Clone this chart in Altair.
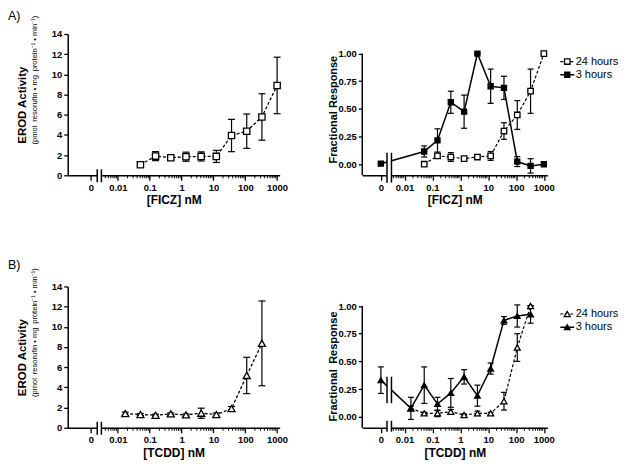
import altair as alt
import numpy as np
import pandas as pd

FONT = "Liberation Sans"

# ---------------- data ----------------
FICZ_CONC = [0.0508, 0.152, 0.457, 1.37, 4.12, 12.3, 37.0, 111.0, 333.0, 1000.0]
TCDD_CONC = [0.0169, 0.0508, 0.152, 0.457, 1.37, 4.12, 12.3, 37.0, 111.0, 333.0]
FICZ_3H_CONC = [0.0, 0.0508, 0.152, 0.457, 1.37, 4.12, 12.3, 37.0, 111.0, 333.0, 1000.0]
TCDD_3H_CONC = [0.0, 0.0169, 0.0508, 0.152, 0.457, 1.37, 4.12, 12.3, 37.0, 111.0, 333.0]

FICZ_EROD_MEAN = [1.05, 1.90, 1.74, 1.84, 1.87, 1.87, 3.94, 4.37, 5.78, 8.90]
FICZ_EROD_SEM = [0.10, 0.45, 0.15, 0.45, 0.45, 0.60, 1.60, 1.70, 2.30, 2.80]

TCDD_EROD_MEAN = [1.40, 1.31, 1.24, 1.37, 1.27, 1.44, 1.31, 1.90, 5.18, 8.36]
TCDD_EROD_SEM = [0.15, 0.10, 0.10, 0.10, 0.10, 0.50, 0.15, 0.20, 1.80, 4.20]

FICZ_3H_MEAN = [0.005, 0.115, 0.215, 0.56, 0.475, 1.00, 0.705, 0.69, 0.024, -0.015, 0.0]
FICZ_3H_SEM = [0.01, 0.05, 0.105, 0.10, 0.15, 0.0, 0.155, 0.105, 0.045, 0.065, 0.02]
FICZ_24H_MEAN = [0.0, 0.075, 0.065, 0.05, 0.065, 0.075, 0.30, 0.445, 0.66, 1.00]
FICZ_24H_SEM = [0.01, 0.02, 0.04, 0.01, 0.01, 0.04, 0.075, 0.13, 0.20, 0.0]

TCDD_3H_MEAN = [0.33, 0.075, 0.285, 0.115, 0.215, 0.36, 0.19, 0.435, 0.87, 0.91, 0.925]
TCDD_3H_SEM = [0.12, 0.10, 0.165, 0.06, 0.13, 0.065, 0.095, 0.05, 0.035, 0.10, 0.08]
TCDD_24H_MEAN = [0.075, 0.03, 0.03, 0.045, 0.015, 0.03, 0.03, 0.14, 0.625, 1.00]
TCDD_24H_SEM = [0.02, 0.01, 0.03, 0.02, 0.01, 0.02, 0.01, 0.08, 0.125, 0.0]

SERIES = ["24 hours", "3 hours"]
X_TICK_CONC = [0, 0.01, 0.1, 1, 10, 100, 1000]
X_TICK_LABELS = ["0", "0.01", "0.1", "1", "10", "100", "1000"]
Y_TICKS_EROD = [0, 2, 4, 6, 8, 10, 12, 14]
Y_TICKS_FR = [0.0, 0.25, 0.5, 0.75, 1.0]
EROD_SUB = "(pmol\u2002resorufin \u2022 mg\u2002protein\u207b\u00b9 \u2022 min\u207b\u00b9)"

# ---------------- helpers ----------------
ZERO_POS = -2.85  # where the "0" dose sits on the broken log axis


def xpos(c):
    return ZERO_POS if c == 0 else float(np.log10(c))


def frame(conc, mean, sem):
    return pd.DataFrame({
        "xpos": [xpos(c) for c in conc],
        "yv": mean,
        "lo": [m - s for m, s in zip(mean, sem)],
        "hi": [m + s for m, s in zip(mean, sem)],
    })


XVALS = [xpos(c) for c in X_TICK_CONC]
LABEL_EXPR = "".join(
    f"abs(datum.value - ({v:.4f})) < 0.01 ? '{t}' : " for v, t in zip(XVALS, X_TICK_LABELS)
) + "''"

MINOR = [float(np.log10(k * 10.0 ** n)) for n in range(-3, 3) for k in range(2, 10)]

H = 142
LABEL_FS = 9.5


def make_panel(p):
    W = p["W"]
    xs = alt.Scale(domain=p["xdom"], nice=False, zero=False)
    ys = alt.Scale(domain=p["ydom"], nice=False, zero=False)
    xaxis = alt.Axis(values=XVALS, labelExpr=LABEL_EXPR, title=p["xtitle"], titlePadding=3,
                     tickSize=5, labelPadding=2, domainWidth=1.5, tickWidth=1.3,
                     labelFontSize=LABEL_FS, titleFontSize=12, labelFlush=False,
                     labelOverlap=False)
    yaxis = alt.Axis(values=p["yticks"], format=p["yfmt"], title=p["ytitle"], titleAngle=270,
                     titleX=p["tx"], titleY=p["ty"], titleAlign="center", titleBaseline="middle",
                     titleFontSize=p["tfs"], tickSize=4, labelPadding=2, domain=not p["manual_y"],
                     domainWidth=1.5, tickWidth=1.3, labelFontSize=LABEL_FS, labelFlush=False,
                     labelOverlap=False)

    def X(f="xpos"):
        return alt.X(f"{f}:Q", scale=xs, axis=xaxis)

    def Y(f="yv"):
        return alt.Y(f"{f}:Q", scale=ys, axis=yaxis)

    layers = []
    for s in p["series"]:
        lk = dict(color="black", strokeWidth=s["lw"])
        if s["dash"]:
            lk["strokeDash"] = s["dash"]
        layers.append(alt.Chart(s["df"]).mark_line(**lk).encode(x=X(), y=Y()))
    for s in p["series"]:
        base = alt.Chart(s["df"])
        layers.append(base.mark_rule(color="black", strokeWidth=1.2).encode(
            x=X(), y=Y("lo"), y2=alt.Y2("hi:Q")))
        for f in ("lo", "hi"):
            layers.append(base.mark_rule(color="black", strokeWidth=1.2,
                                         xOffset=-p["cap"], x2Offset=p["cap"]).encode(
                x=X(), x2=alt.X2("xpos:Q"), y=Y(f)))
    for s in p["series"]:
        layers.append(alt.Chart(s["df"]).mark_point(
            shape=s["shape"], filled=True, fill=s["fill"], stroke="black",
            strokeWidth=1.3, size=s["size"], opacity=1).encode(x=X(), y=Y()))

    # axis break
    bx = p["brk_x"]
    bdf = pd.DataFrame({"xpos": [bx[0]], "xpos2": [bx[1]]})
    layers.append(alt.Chart(bdf).mark_rect(color="white").encode(
        x=X(), x2=alt.X2("xpos2:Q"),
        y=alt.value(p["brk_y"][0][0]), y2=alt.value(p["brk_y"][-1][1])))
    edf = pd.DataFrame({"xpos": bx})
    for a, b in p["brk_y"]:
        layers.append(alt.Chart(edf).mark_rule(color="black", strokeWidth=1.5).encode(
            x=X(), y=alt.value(a), y2=alt.value(b)))

    # minor log ticks
    mdf = pd.DataFrame({"xpos": [v for v in MINOR if bx[1] + 0.02 < v < p["xdom"][1]]})
    layers.append(alt.Chart(mdf).mark_rule(color="black", strokeWidth=1).encode(
        x=X(), y=alt.value(H), y2=alt.value(H + 3)))

    if p["manual_y"]:
        ydf = pd.DataFrame({"yv": [1.0], "yv2": [p["ydom"][0]]})
        layers.append(alt.Chart(ydf).mark_rule(color="black", strokeWidth=1.5).encode(
            x=alt.value(0), y=Y(), y2=alt.Y2("yv2:Q")))

    if p.get("legend"):
        for i, s in enumerate(p["series"]):
            ly = [27.7, 41.0][i]
            ldf = pd.DataFrame({"label": [s["name"]]})
            lk = dict(color="black", strokeWidth=s["lw"])
            if s["dash"]:
                lk["strokeDash"] = s["dash"]
            layers.append(alt.Chart(ldf).mark_rule(**lk).encode(
                x=alt.value(W + 13), x2=alt.value(W + 27), y=alt.value(ly)))
            layers.append(alt.Chart(ldf).mark_point(
                shape=s["shape"], filled=True, fill=s["fill"], stroke="black",
                strokeWidth=1.3, size=s["size"], opacity=1).encode(
                x=alt.value(W + 20), y=alt.value(ly)))
            layers.append(alt.Chart(ldf).mark_text(
                align="left", baseline="middle", fontSize=11, font=FONT, color="black").encode(
                x=alt.value(W + 28.5), y=alt.value(ly), text="label:N"))

    if p.get("subtitle"):
        sdf = pd.DataFrame({"t": [p["subtitle"]]})
        layers.append(alt.Chart(sdf).mark_text(
            angle=270, align="left", baseline="middle", fontSize=7.6, font=FONT,
            color="black").encode(x=alt.value(-33), y=alt.value(111), text="t:N"))

    if p.get("label"):
        tdf = pd.DataFrame({"t": [p["label"]]})
        layers.append(alt.Chart(tdf).mark_text(
            align="left", baseline="top", fontSize=12.5, font=FONT, color="black").encode(
            x=alt.value(-60), y=alt.value(p["label_y"]), text="t:N"))

    return alt.layer(*layers).properties(width=W, height=H)


XDOM_L = [-3.578, 3.08]
XDOM_R = [-3.518, 3.125]
W_L, W_R = 213, 186
YDOM_FR = [-0.1, 1.177]

erod_common = dict(W=W_L, xdom=XDOM_L, ydom=[0, 14], yticks=Y_TICKS_EROD, yfmt="d",
                   ytitle="EROD Activity", tx=-45.5, ty=71, tfs=11.5, manual_y=False,
                   cap=3.5, brk_x=[-2.65, -2.52], brk_y=[(136, 149)], subtitle=EROD_SUB)
fr_common = dict(W=W_R, xdom=XDOM_R, ydom=YDOM_FR, yticks=Y_TICKS_FR, yfmt=".2f",
                 tx=-29.3, tfs=11, manual_y=True, cap=3, brk_x=[-2.63, -2.47], legend=True)

TL = make_panel(dict(erod_common, xtitle="[FICZ] nM", label="A)", label_y=-24.3, series=[
    dict(name=SERIES[0], df=frame(FICZ_CONC, FICZ_EROD_MEAN, FICZ_EROD_SEM), lw=1.3,
         dash=[3, 2], shape="square", fill="white", size=40)]))

TR = make_panel(dict(fr_common, xtitle="[FICZ] nM", ytitle="Fractional Response", ty=75.5,
                     brk_y=[(119.4, 149.4)], series=[
    dict(name=SERIES[0], df=frame(FICZ_CONC, FICZ_24H_MEAN, FICZ_24H_SEM), lw=1.2,
         dash=[3, 2], shape="square", fill="white", size=30),
    dict(name=SERIES[1], df=frame(FICZ_3H_CONC, FICZ_3H_MEAN, FICZ_3H_SEM), lw=1.5,
         dash=None, shape="square", fill="black", size=26)]))

BL = make_panel(dict(erod_common, xtitle="[TCDD] nM", label="B)", label_y=-27.7, series=[
    dict(name=SERIES[0], df=frame(TCDD_CONC, TCDD_EROD_MEAN, TCDD_EROD_SEM), lw=1.3,
         dash=[3, 2], shape="triangle-up", fill="white", size=50)]))

BR = make_panel(dict(fr_common, xtitle="[TCDD] nM", ytitle="Fractional\u2002Response", ty=80,
                     brk_y=[(90.7, 117.3), (135, 146)], series=[
    dict(name=SERIES[0], df=frame(TCDD_CONC, TCDD_24H_MEAN, TCDD_24H_SEM), lw=1.2,
         dash=[3, 2], shape="triangle-up", fill="white", size=36),
    dict(name=SERIES[1], df=frame(TCDD_3H_CONC, TCDD_3H_MEAN, TCDD_3H_SEM), lw=1.5,
         dash=None, shape="triangle-up", fill="black", size=32)]))

chart = alt.concat(
    TL, TR, BL, BR, columns=2, bounds="flush",
    spacing={"row": 111.7, "column": 83},
).properties(padding=0).configure_view(stroke=None).configure_axis(
    labelFont=FONT, titleFont=FONT, labelFontWeight="bold", titleFontWeight="bold",
    labelColor="black", titleColor="black", domainColor="black", tickColor="black", grid=False,
)

chart.save("out.html", embed_options={"renderer": "svg", "actions": False})
